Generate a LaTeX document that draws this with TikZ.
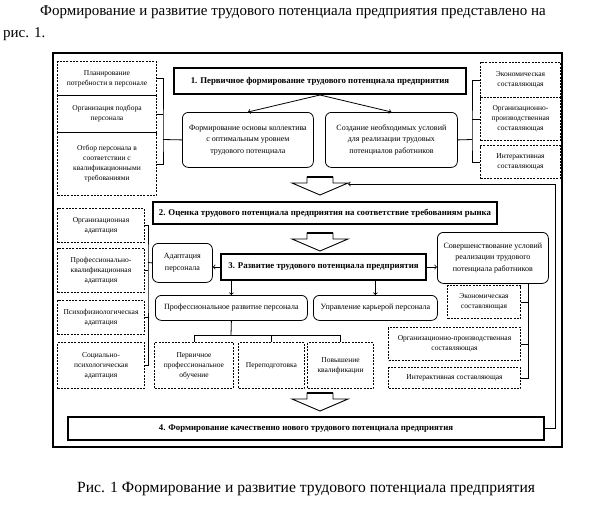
\documentclass[tikz,border=0pt]{standalone}
\usepackage{fontspec}
\setmainfont{Liberation Serif}
\tikzset{
  dashbox/.style={draw, dash pattern={on 2pt off 1.3pt}, line width=1pt, align=center, inner sep=1pt, anchor=north west, font=\fontsize{7.5}{10}\selectfont},
  roundbox/.style={draw, rounded corners=6pt, line width=0.8pt, align=center, inner sep=1pt, anchor=north west, font=\fontsize{8}{11.5}\selectfont},
  stagebox/.style={draw, line width=2pt, align=center, inner sep=1pt, anchor=north west, font=\fontsize{8.8}{10}\selectfont\bfseries},
  hollowarrow/.style={draw, line width=0.9pt, fill=white, line join=miter},
  link/.style={line width=0.8pt},
  plaintext/.style={inner sep=0pt, anchor=west, font=\fontsize{15}{17}\selectfont}
}
\begin{document}
\begin{tikzpicture}[x=1pt,y=1pt,yscale=-1,xscale=1]
\useasboundingbox (0,0) rectangle (591,515);
% Text Node
\node (intro) [plaintext] at (40,12) {Формирование и развитие трудового потенциала предприятия представлено на};
% Text Node
\node (risref) [plaintext] at (3,34) {рис. 1.};
% Text Node
\node (caption) [plaintext, font=\fontsize{15.6}{17}\selectfont] at (77,489) {Рис. 1 Формирование и развитие трудового потенциала предприятия};
%Shape: Rectangle [frame]
\draw [line width=1.6pt] (53,53) rectangle (562,447);

%Stage 1 and its groups
\node (s1) [stagebox, minimum width=292, minimum height=26] at (173,67) {1. Первичное формирование трудового потенциала предприятия};
\node (pA) [dashbox, minimum width=99, minimum height=34] at (57,61) {Планирование\\потребности в персонале};
\node (pB) [dashbox, minimum width=99, minimum height=37] at (57,95) {Организация подбора\\персонала};
\node (pC) [dashbox, minimum width=99, minimum height=63] at (57,132) {Отбор персонала в\\соответствии с\\квалификационными\\требованиями};
\node (r1) [roundbox, minimum width=131, minimum height=55] at (182,112) {Формирование основы коллектива\\с оптимальным уровнем\\трудового потенциала};
\node (r2) [roundbox, minimum width=132, minimum height=55] at (325,112) {Создание необходимых условий\\для реализации трудовых\\потенциалов работников};
\node (rA) [dashbox, minimum width=80, minimum height=35] at (480,62) {Экономическая\\составляющая};
\node (rB) [dashbox, minimum width=80, minimum height=43] at (480,97) {Организационно-\\производственная\\составляющая};
\node (rC) [dashbox, minimum width=80, minimum height=33] at (480,145) {Интерактивная\\составляющая};
\coordinate (lb1) at (163,139.5);
\coordinate (rb1) at (472,139.5);
\draw [link] (pA.east) -| (lb1) |- (pC.east);
\draw [link] (pB.east) -- (pB.east -| lb1);
\draw [link] (lb1) -- (r1.west);
\draw [link] (rA.west) -| (rb1) |- (rC.west);
\draw [link] (rB.west) -- (rB.west -| rb1);
\draw [link] (rb1) -- (r2.east);
\draw [link, ->] (s1.south) -- (r1.north);
\draw [link, ->] (s1.south) -- (r2.north);

%Hollow arrows
\draw [hollowarrow] (307,183) -- (307,177) -- (333,177) -- (333,183) -- (348,183) -- (320,195) -- (292,183) -- cycle;
\draw [line width=2.5pt] (307,177) -- (333,177);
\draw [hollowarrow] (307,239) -- (307,233) -- (333,233) -- (333,239) -- (348,239) -- (320,251) -- (292,239) -- cycle;
\draw [line width=2.5pt] (307,233) -- (333,233);
\draw [hollowarrow] (307,399) -- (307,393) -- (333,393) -- (333,399) -- (348,399) -- (320,411) -- (292,399) -- cycle;
\draw [line width=2.5pt] (307,393) -- (333,393);

%Stage 2
\node (s2) [stagebox, minimum width=344, minimum height=22] at (152,201) {2. Оценка трудового потенциала предприятия на соответствие требованиям рынка};

%Stage 3 and its groups
\node (s3) [stagebox, minimum width=205, minimum height=26] at (220,253) {3. Развитие трудового потенциала предприятия};
\node (a1) [roundbox, minimum width=60, minimum height=39] at (152,243) {Адаптация\\персонала};
\node (c1) [roundbox, minimum width=111, minimum height=51] at (437,232) {Совершенствование условий\\реализации трудового\\потенциала работников};
\node (lA) [dashbox, minimum width=87, minimum height=34] at (57,208) {Организационная\\адаптация};
\node (lB) [dashbox, minimum width=87, minimum height=44] at (57,248) {Профессионально-\\квалификационная\\адаптация};
\node (lC) [dashbox, minimum width=87, minimum height=34] at (57,300) {Психофизиологическая\\адаптация};
\node (lD) [dashbox, minimum width=87, minimum height=46] at (57,342) {Социально-\\психологическая\\адаптация};
\node (p1) [roundbox, minimum width=152, minimum height=25] at (155,295) {Профессиональное развитие персонала};
\node (p2) [roundbox, minimum width=124, minimum height=25] at (313,295) {Управление карьерой персонала};
\node (t1) [dashbox, minimum width=79, minimum height=46] at (154,342) {Первичное\\профессиональное\\обучение};
\node (t2) [dashbox, minimum width=66, minimum height=46] at (238,342) {Переподготовка};
\node (t3) [dashbox, minimum width=66, minimum height=46] at (307,342) {Повышение\\квалификации};
\node (eA) [dashbox, minimum width=73, minimum height=33] at (447,285) {Экономическая\\составляющая};
\node (eB) [dashbox, minimum width=132, minimum height=33] at (388,327) {Организационно-производственная\\составляющая};
\node (eC) [dashbox, minimum width=132, minimum height=21] at (388,367) {Интерактивная составляющая};
\coordinate (lb2) at (148,262.5);
\coordinate (rb2) at (528,283);
\coordinate (tr) at (231,335);
\draw [link] (lA.east) -| (lb2) |- (lD.east);
\draw [link] (lB.east) -- (lB.east -| lb2);
\draw [link] (lC.east) -- (lC.east -| lb2);
\draw [link] (lb2) -- (a1.west);
\draw [link, ->] (s3.west) -- (s3.west -| a1.east);
\draw [link, ->] (s3.east) -- (s3.east -| c1.west);
\draw [link, ->] (s3.south -| p1.north) -- (p1.north);
\draw [link, ->] (s3.south -| p2.north) -- (p2.north);
\draw [link] (p1.south) -- (tr);
\draw [link] (t1.north) -- (t1.north |- tr) -- (t3.north |- tr) -- (t3.north);
\draw [link] (t2.north) -- (t2.north |- tr);
\draw [link] (rb2) |- (eC.east);
\draw [link] (eA.east) -- (eA.east -| rb2);
\draw [link] (eB.east) -- (eB.east -| rb2);

%Stage 4 and feedback
\node (s4) [stagebox, minimum width=476, minimum height=23] at (67,416) {4. Формирование качественно нового трудового потенциала предприятия};
\coordinate (fb) at (348,184);
\draw [link, ->] (s4.east) -- ++(10,0) |- (fb);
\end{tikzpicture}
\end{document}
